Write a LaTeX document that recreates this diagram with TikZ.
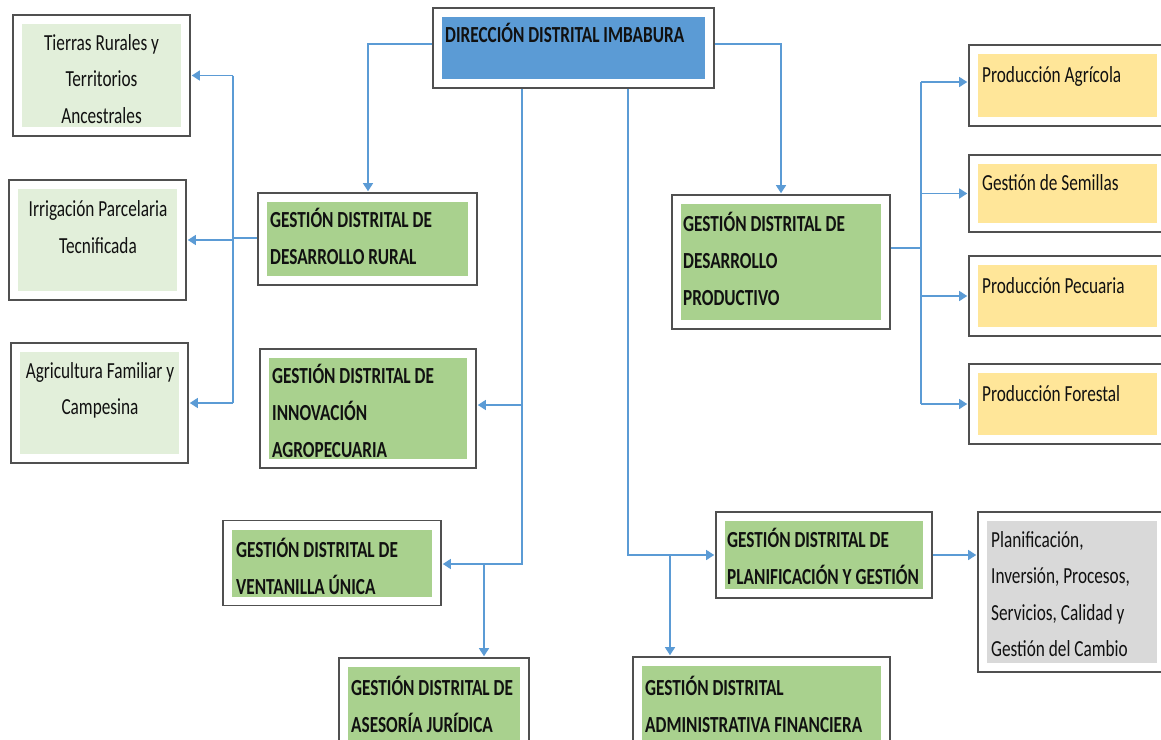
\documentclass[tikz,border=0pt]{standalone}
\usepackage{fontspec}
\setmainfont{Carlito}[FakeStretch=0.75]
\usetikzlibrary{arrows.meta}
\definecolor{lnblue}{HTML}{5B9BD5}
\definecolor{topblue}{HTML}{5B9BD5}
\definecolor{grn}{HTML}{A9D18E}
\definecolor{lgrn}{HTML}{E2EFDA}
\definecolor{ylw}{HTML}{FFE699}
\definecolor{gry}{HTML}{D9D9D9}
\definecolor{bord}{HTML}{505050}
\definecolor{txt}{HTML}{111111}
\tikzset{
  obox/.style={rectangle, draw=bord, line width=1.6pt, fill=white, inner sep=0pt,
    path picture={\fill[#1] ([shift={(9pt,-9pt)}]path picture bounding box.north west) rectangle ([shift={(-9pt,9pt)}]path picture bounding box.south east);}},
  bt/.style={anchor=north west, inner sep=0pt, align=left, text=txt,
    font=\bfseries\fontsize{23}{37}\selectfont},
  rt/.style={anchor=north west, inner sep=0pt, align=left, text=txt,
    font=\fontsize{23}{36.5}\selectfont},
  rtc/.style={rt, anchor=north, align=center},
  conn/.style={draw=lnblue, line width=1.3pt},
  arr/.style={conn, -{Triangle[length=8pt,width=10pt]}, shorten >=1pt},
}
\begin{document}
\begin{tikzpicture}[x=1pt,y=-1pt]
\useasboundingbox (0,0) rectangle (1161,739);
\clip (0,0) rectangle (1161,739);
\fill[white] (0,0) rectangle (1161,739);

% boxes
\node[obox=topblue, minimum width=281pt, minimum height=80pt] (top) at (573.5,48) {};
\node[obox=lgrn, minimum width=177pt, minimum height=121pt] (tierras) at (101.5,75.5) {};
\node[obox=lgrn, minimum width=177pt, minimum height=120pt] (irrig) at (97.5,240) {};
\node[obox=lgrn, minimum width=177pt, minimum height=120pt] (agri) at (99.5,403) {};
\node[obox=grn, minimum width=219pt, minimum height=92pt] (gdr) at (367.5,239) {};
\node[obox=grn, minimum width=216pt, minimum height=119pt] (innov) at (368,408.5) {};
\node[obox=grn, minimum width=218pt, minimum height=85pt] (vent) at (332,563) {};
\node[obox=grn, minimum width=190pt, minimum height=92pt] (ases) at (434,704) {};
\node[obox=grn, minimum width=218pt, minimum height=134pt] (dp) at (781,262) {};
\node[obox=ylw, minimum width=197pt, minimum height=81pt] (pa) at (1067.5,85.5) {};
\node[obox=ylw, minimum width=197pt, minimum height=77pt] (gs) at (1067.5,193.5) {};
\node[obox=ylw, minimum width=197pt, minimum height=80pt] (pp) at (1067.5,296) {};
\node[obox=ylw, minimum width=197pt, minimum height=80pt] (pf) at (1067.5,404) {};
\node[obox=grn, minimum width=216pt, minimum height=86pt] (pg) at (824,555) {};
\node[obox=gry, minimum width=188pt, minimum height=160pt] (gray) at (1072,592) {};
\node[obox=grn, minimum width=257pt, minimum height=94pt] (adm) at (761.5,704) {};

% texts
\node[bt] (ttop) at (445,16.1) {\strut DIRECCIÓN DISTRITAL IMBABURA};
\node[bt] (tgdr) at (270,201.1) {\strut GESTIÓN DISTRITAL DE\\DESARROLLO RURAL};
\node[bt] (tinnov) at (272,357.1) {\strut GESTIÓN DISTRITAL DE\\INNOVACIÓN\\AGROPECUARIA};
\node[bt] (tvent) at (236,531.1) {\strut GESTIÓN DISTRITAL DE\\VENTANILLA ÚNICA};
\node[bt] (tases) at (351,669.1) {\strut GESTIÓN DISTRITAL DE\\ASESORÍA JURÍDICA};
\node[bt] (tadm) at (645,669.1) {\strut GESTIÓN DISTRITAL\\ADMINISTRATIVA FINANCIERA};
\node[bt] (tdp) at (683,205.1) {\strut GESTIÓN DISTRITAL DE\\DESARROLLO\\PRODUCTIVO};
\node[bt] (tpg) at (727,521.1) {\strut GESTIÓN DISTRITAL DE\\PLANIFICACIÓN Y GESTIÓN};
\node[rtc] (ttierras) at (101.5,24.45) {\strut Tierras Rurales y\\Territorios\\Ancestrales};
\node[rtc] (tirrig) at (98,190.95) {\strut Irrigación Parcelaria\\Tecnificada};
\node[rtc] (tagri) at (100,352.45) {\strut Agricultura Familiar y\\Campesina};
\node[rt] (tpa) at (982,56.45) {\strut Producción Agrícola};
\node[rt] (tgs) at (982,164.45) {\strut Gestión de Semillas};
\node[rt] (tpp) at (982,267.45) {\strut Producción Pecuaria};
\node[rt] (tpf) at (982,375.45) {\strut Producción Forestal};
\node[rt] (tgray) at (991,521.45) {\strut Planificación,\\Inversión, Procesos,\\Servicios, Calidad y\\Gestión del Cambio};

% junction coordinates
\coordinate (jL) at (368,44);
\coordinate (jR) at (781,44);
\coordinate (cL) at (522,564);
\coordinate (iJ) at (522,405);
\coordinate (aJ) at (484,564);
\coordinate (cR) at (628,555);
\coordinate (mJ) at (670,555);
\coordinate (bL) at (233,238);
\coordinate (bR) at (921,248);
\coordinate (pJ) at (921,82);

% connectors
\draw[arr] (top.west |- jL) -| (gdr.north -| jL);
\draw[arr] (top.east |- jR) -| (dp.north -| jR);
\draw[arr] (top.south -| cL) |- (vent.east |- cL);
\draw[arr] (iJ) -- (innov.east |- iJ);
\draw[arr] (aJ) -- (ases.north -| aJ);
\draw[arr] (top.south -| cR) |- (pg.west |- cR);
\draw[arr] (mJ) -- (adm.north -| mJ);
\draw[conn] (gdr.west |- bL) -- (bL);
\draw[conn] (bL |- tierras.east) -- (bL |- agri.east);
\draw[arr] (bL |- tierras.east) -- (tierras.east);
\draw[arr] (bL |- irrig.east) -- (irrig.east);
\draw[arr] (bL |- agri.east) -- (agri.east);
\draw[conn] (dp.east |- bR) -- (bR);
\draw[conn] (pJ) -- (bR |- pf.west);
\draw[arr] (pJ) -- (pa.west |- pJ);
\draw[arr] (bR |- gs.west) -- (gs.west);
\draw[arr] (bR |- pp.west) -- (pp.west);
\draw[arr] (bR |- pf.west) -- (pf.west);
\draw[arr] (pg.east) -- (pg.east -| gray.west);
\end{tikzpicture}
\end{document}
